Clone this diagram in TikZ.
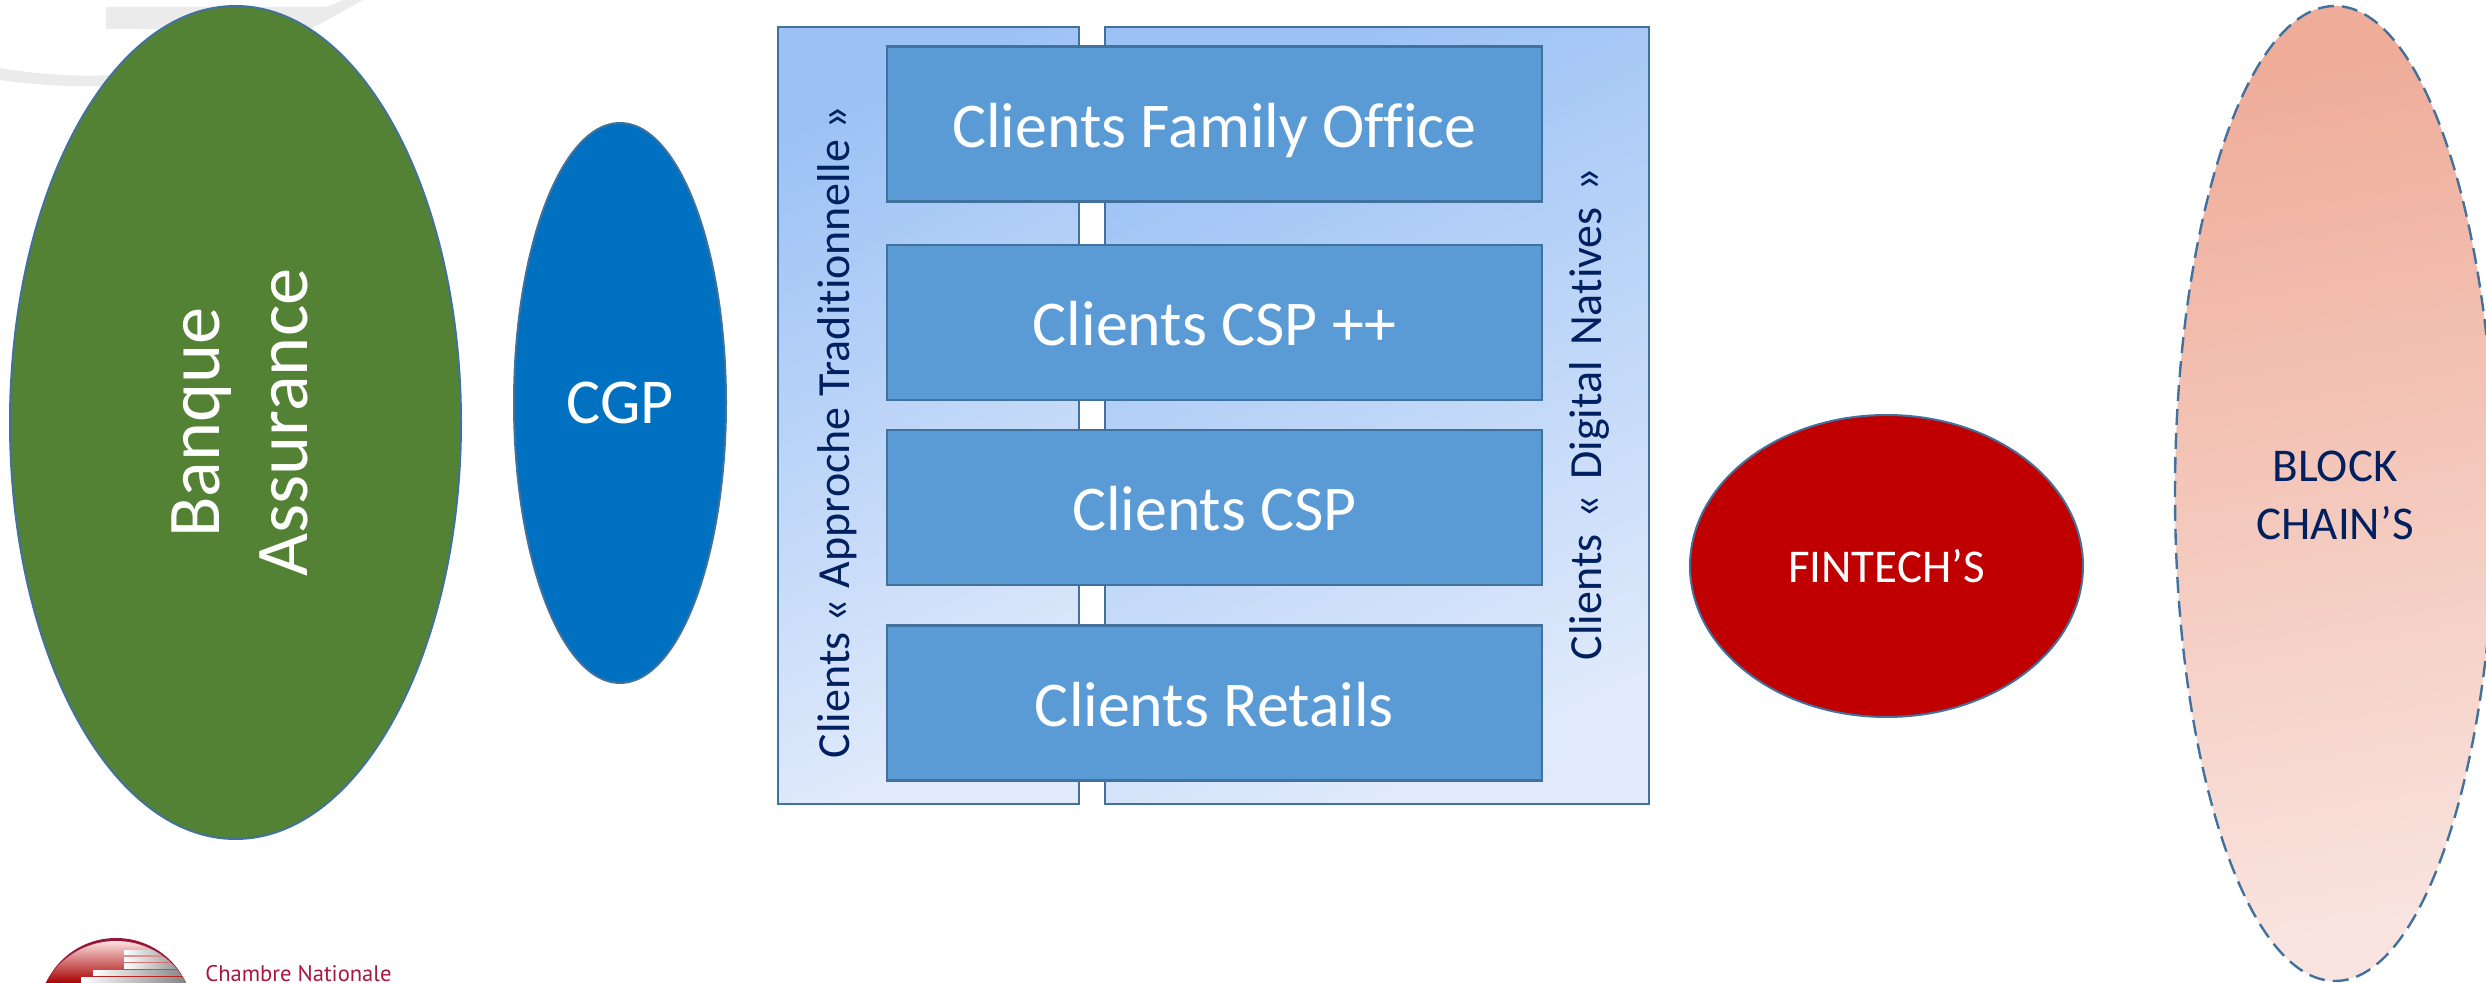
\documentclass[tikz,border=0pt]{standalone}
\usepackage{fontspec}
\setmainfont[Ligatures=NoCommon]{Carlito}
\newfontfamily\logofont{PT Sans}
\usepackage{tikz}
\usetikzlibrary{calc, shapes.geometric}

\definecolor{edgeblue}{HTML}{41719C}
\definecolor{boxblue}{HTML}{5B9BD5}
\definecolor{paneltop}{HTML}{9CC2F5}
\definecolor{panelbottom}{HTML}{E0EAFB}
\definecolor{navytext}{HTML}{002060}
\definecolor{bankgreen}{HTML}{548235}
\definecolor{cgpblue}{HTML}{0070C0}
\definecolor{fintechred}{HTML}{C00000}
\definecolor{chaintop}{HTML}{EFAC98}
\definecolor{chainbottom}{HTML}{F9E4DF}
\definecolor{ghostgrey}{HTML}{EBEBEB}
\definecolor{logored}{HTML}{A8173F}

\tikzset{
  panel/.style={draw=edgeblue, line width=1.2pt, shading=axis, top color=paneltop, bottom color=panelbottom, shading angle=25},
  clientbox/.style={draw=edgeblue, line width=1.3pt, fill=boxblue, text=white, minimum width=327.5pt, minimum height=77.5pt, inner sep=0pt, text height=23.5pt, text depth=0pt, font=\fontsize{31.9}{38}\selectfont},
  paneltext/.style={rotate=90, text=navytext, inner sep=0pt, font=\fontsize{23}{28}\selectfont},
  oval/.style={ellipse, draw=edgeblue, line width=1pt, inner sep=0pt, text=white, align=center}
}

\begin{document}
\begin{tikzpicture}[x=0.5pt, y=-0.5pt]

  \useasboundingbox (0,0) rectangle (2486,983);

  \coordinate (LA) at (778,27);
  \coordinate (LB) at (1079,804);
  \coordinate (RA) at (1105,27);
  \coordinate (RB) at (1649,804);

  % faint marks behind the green oval
  \fill[ghostgrey] (106,7) -- (325,7) .. controls (332,5) and (338,3) .. (343,0) -- (363,0) .. controls (345,10) and (328,20) .. (310,29) -- (106,29) -- cycle;
  \fill[ghostgrey] (0,68) .. controls (35,74) and (75,77) .. (112,75) -- (105,86) .. controls (70,87) and (35,85) .. (0,80) -- cycle;

  \shadedraw[panel] (LA) rectangle (LB);
  \shadedraw[panel] (RA) rectangle (RB);

  \node[clientbox] (family) at (1214.5,124) {Clients Family Office};
  \node[clientbox] (cspplus) at (1214.5,322.5) {Clients CSP ++};
  \node[clientbox] (csp) at (1214.5,507.5) {Clients CSP};
  \node[clientbox] (retail) at (1214.5,703) {Clients Retails};

  \node[paneltext] (approche) at (837,432) {Clients « Approche Traditionnelle »};
  \node[paneltext] (natives) at (1589,414) {\spaceskip=7.8pt Clients « Digital Natives »};

  \node[oval, fill=bankgreen, minimum width=225.5pt, minimum height=416.5pt] (bank) at (235.5,422.5) {};
  \node[rotate=90, text=white, align=center, font=\fontsize{37.2}{44}\selectfont] (banktext) at (240,422.5) {Banque\\Assurance};
  \node[oval, fill=cgpblue, minimum width=106pt, minimum height=280pt, font=\fontsize{32}{38}\selectfont] (cgp) at (620,403) {CGP};
  \node[oval, fill=fintechred, minimum width=196.5pt, minimum height=151pt, font=\fontsize{23.5}{28}\selectfont] (fintech) at (1886.5,566) {FINTECH’S};

  \shade[top color=chaintop, bottom color=chainbottom, shading angle=10] (2335,493.5) ellipse [x radius=160, y radius=487.5];
  \draw[edgeblue, line width=1.2pt, dash pattern=on 8pt off 4pt] (2335,493.5) ellipse [x radius=160, y radius=487.5];
  \node[text=navytext, align=center, font=\fontsize{23.5}{29}\selectfont] (chain) at (2335,495) {BLOCK\\CHAIN’S};

  % logo, cut by the lower edge
  \begin{scope}
    \clip (116,1015) circle [radius=77];
    \fill[logored!90!black] (40,935) rectangle (195,983);
    \clip (116,1021) circle [radius=80];
    \shade[top color=red!10!white, bottom color=red!65!black] (40,940) rectangle (195,983);
    \shade[left color=white, right color=gray] (124,950) rectangle (190,954.5);
    \shade[left color=white, right color=gray] (124,957) rectangle (190,961);
    \shade[left color=white, right color=gray] (124,963) rectangle (190,968);
    \shade[left color=white, right color=gray] (93,970) rectangle (190,975);
    \shade[left color=white, right color=gray] (81,977) rectangle (190,982);
  \end{scope}
  \node[anchor=base west, inner sep=0pt, text=logored, font=\logofont\fontsize{11.3}{14}\selectfont] (chambre) at (205,981) {Chambre Nationale};

\end{tikzpicture}
\end{document}
